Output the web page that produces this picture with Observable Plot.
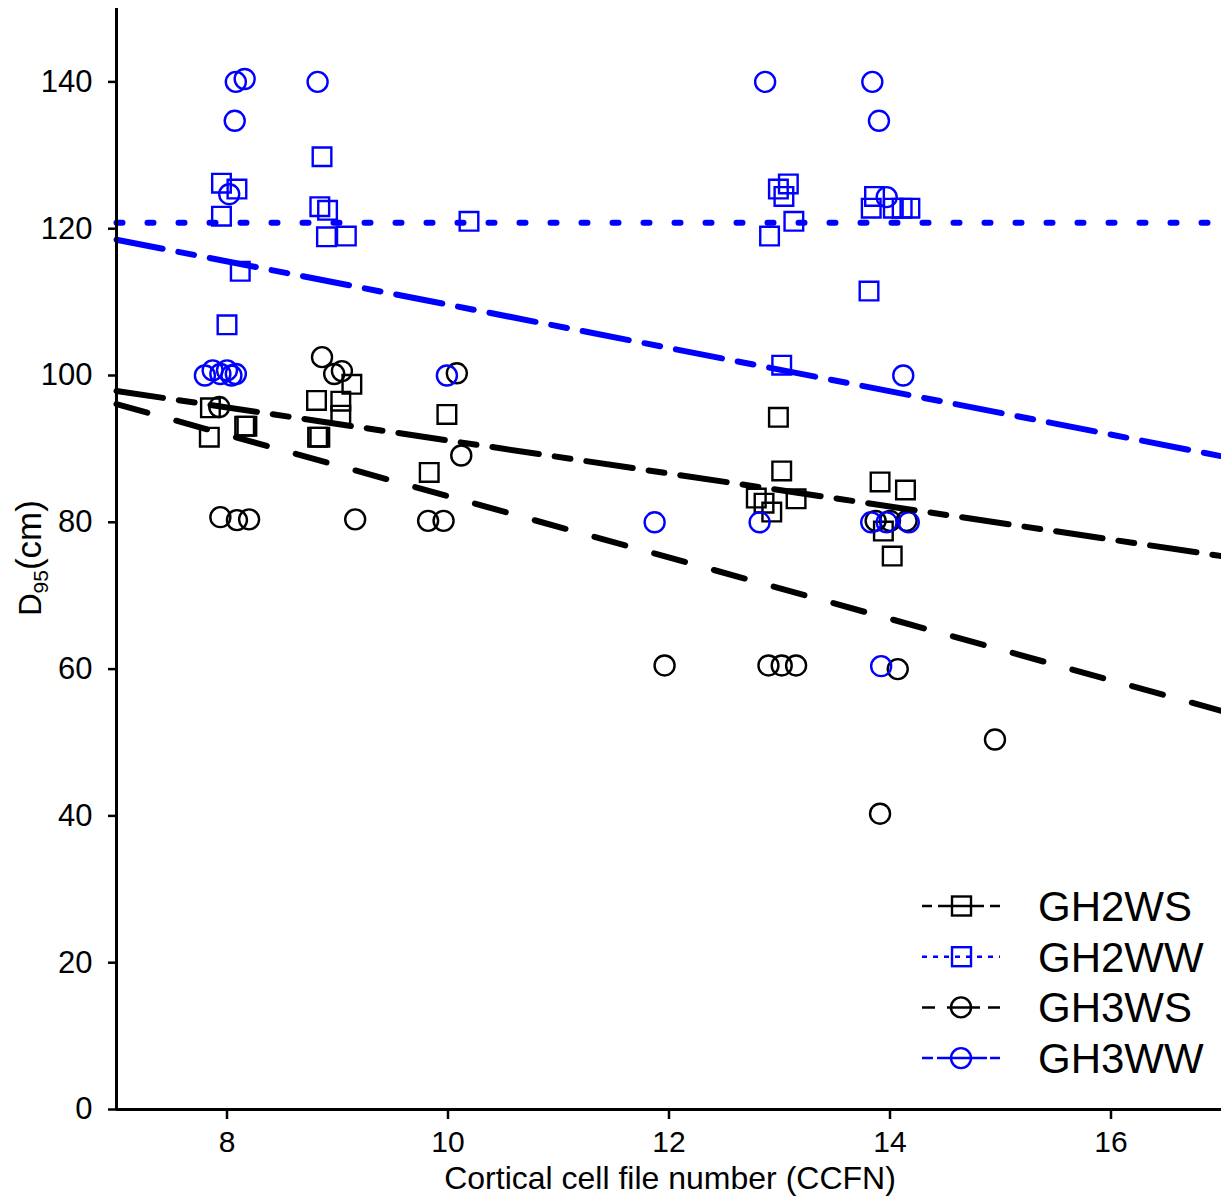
<!DOCTYPE html>
<html><head><meta charset="utf-8">
<script src="https://cdn.jsdelivr.net/npm/d3@7"></script>
<script src="https://cdn.jsdelivr.net/npm/@observablehq/plot@0.6"></script>
<style>body{margin:0;background:#fff;} #chart{position:relative;width:1221px;height:1196px;}</style>
</head><body><div id="chart"></div>
<script>
// ---- data ----
const xTicks = [8, 10, 12, 14, 16];
const yTicks = [0, 20, 40, 60, 80, 100, 120, 140];
const seriesNames = ["GH2WS", "GH2WW", "GH3WS", "GH3WW"];

const gh2wsX = [7.84,7.85,8.16,8.18,8.81,8.82,8.84,9.03,9.03,9.13,9.99,9.83,12.99,13.02,12.79,12.86,12.93,13.15,13.91,14.14,13.94,14.02];
const gh2wsY = [91.6,95.6,93.1,93.1,96.6,91.6,91.6,96.5,94.6,98.8,94.7,86.8,94.3,87.0,83.3,82.6,81.4,83.2,85.5,84.4,78.8,75.4];

const gh2wwX = [7.95,8.09,7.95,8.12,8.00,8.86,8.84,8.91,8.90,9.08,10.19,12.99,13.08,13.04,13.13,12.91,13.02,13.86,13.83,14.03,14.11,14.18,13.81];
const gh2wwY = [126.2,125.4,121.7,114.2,106.9,129.8,123.0,122.5,118.9,119.0,121.0,125.4,126.1,124.4,121.0,119.0,101.4,124.4,122.8,122.8,122.8,122.8,111.5];

const gh3wsX = [7.94,8.09,8.20,7.93,8.86,8.97,9.04,9.16,9.82,9.96,10.08,10.12,11.96,12.90,13.02,13.15,14.07,14.95,13.91,13.87,14.00,14.15];
const gh3wsY = [80.7,80.3,80.4,95.7,102.5,100.2,100.6,80.4,80.2,80.2,100.3,89.1,60.5,60.5,60.5,60.5,60.0,50.4,40.3,80.2,80.2,80.2];

const gh3wwX = [8.16,8.08,8.07,8.02,7.80,7.87,7.94,8.00,8.04,8.08,8.82,9.99,11.87,12.87,12.82,13.84,13.90,13.97,14.12,13.83,13.97,14.17,13.92];
const gh3wwY = [140.4,140.0,134.7,124.7,100.0,100.7,100.2,100.7,100.0,100.2,140.0,100.0,80.0,140.0,80.0,140.0,134.7,124.3,100.0,80.0,80.0,80.0,60.4];

// fitted lines, read at the plot's left and right edges
const fitX = [7, 17];
const gh2wsFit = [97.9, 75.4];
const gh2wwFit = [120.8, 120.8];
const gh3wsFit = [96.1, 54.3];
const gh3wwFit = [118.5, 89.0];

// ---- build tables ----
const BLUE = "#0000ff";
const style = {
  GH2WS: {color: "#000", symbol: "square", dash: "47,16,16,16", legendDash: "10,6,46,6,10"},
  GH2WW: {color: BLUE, symbol: "square", dash: "6,25", legendDash: "5,6"},
  GH3WS: {color: "#000", symbol: "circle", dash: "32,30", legendDash: "13,12,33,8,12"},
  GH3WW: {color: BLUE, symbol: "circle", dash: "47,16,16,16", legendDash: "11,4,50,3,10"}
};
const pts = (name, xs, ys) => xs.map((x, i) => ({series: name, x, y: ys[i]}));
const points = {
  GH2WS: pts("GH2WS", gh2wsX, gh2wsY),
  GH2WW: pts("GH2WW", gh2wwX, gh2wwY),
  GH3WS: pts("GH3WS", gh3wsX, gh3wsY),
  GH3WW: pts("GH3WW", gh3wwX, gh3wwY)
};
const fits = {
  GH2WS: pts("GH2WS", fitX, gh2wsFit),
  GH2WW: pts("GH2WW", fitX, gh2wwFit),
  GH3WS: pts("GH3WS", fitX, gh3wsFit),
  GH3WW: pts("GH3WW", fitX, gh3wwFit)
};

const dotMarks = seriesNames.map(n => Plot.dot(points[n], {
  x: "x", y: "y", symbol: () => style[n].symbol,
  r: style[n].symbol === "square" ? 10.5 : 10,
  stroke: style[n].color, strokeWidth: 2.4, fill: "none"
}));
const lineMarks = seriesNames.map(n => Plot.line(fits[n], {
  x: "x", y: "y", stroke: style[n].color, strokeWidth: 6,
  strokeDasharray: style[n].dash, strokeLinecap: "round"
}));

const ff = "'Liberation Sans', Arial, sans-serif";
const plot = Plot.plot({
  width: 1221, height: 1196,
  marginLeft: 116, marginRight: 0, marginTop: 8, marginBottom: 87,
  x: {domain: [7, 17], label: null},
  y: {domain: [0, 150], label: null},
  symbol: {type: "identity"},
  style: {fontFamily: ff, fontSize: "31px", background: "white", color: "black"},
  marks: [
    ...dotMarks,
    ...lineMarks,
    Plot.axisX({ticks: xTicks, tickSize: 10, tickPadding: 11, label: null, strokeWidth: 2.5, fontSize: 30}),
    Plot.axisY({ticks: yTicks, tickSize: 8, tickPadding: 16, label: null, strokeWidth: 2.5, fontSize: 31}),
    Plot.ruleX([7], {strokeWidth: 3}),
    Plot.ruleY([0], {strokeWidth: 3})
  ]
});
document.getElementById("chart").appendChild(plot);

// ---- labels and legend ----
const svg = d3.select(plot);
svg.append("text")
  .attr("x", 670).attr("y", 1189).attr("text-anchor", "middle")
  .attr("font-family", ff).attr("font-size", 32).attr("fill", "#000")
  .text("Cortical cell file number (CCFN)");
const yl = svg.append("text")
  .attr("transform", "translate(41,558) rotate(-90)").attr("text-anchor", "middle")
  .attr("font-family", ff).attr("font-size", 31).attr("fill", "#000");
yl.append("tspan").text("D");
yl.append("tspan").attr("font-size", 21).attr("dy", 7).text("95");
yl.append("tspan").attr("font-size", 35).attr("dy", -7).text("(cm)");

const lg = svg.append("g").attr("text-anchor", "start");
seriesNames.forEach((n, i) => {
  const cy = 906 + i * 50.7;
  const g = lg.append("g");
  g.append("line").attr("x1", 922).attr("x2", 1000).attr("y1", cy).attr("y2", cy)
    .attr("stroke", style[n].color).attr("stroke-width", 2.5)
    .attr("stroke-dasharray", style[n].legendDash);
  if (style[n].symbol === "square") {
    g.append("rect").attr("x", 952).attr("y", cy - 9.5).attr("width", 19).attr("height", 19)
      .attr("fill", "none").attr("stroke", style[n].color).attr("stroke-width", 2.4);
  } else {
    g.append("circle").attr("cx", 961).attr("cy", cy).attr("r", 10)
      .attr("fill", "none").attr("stroke", style[n].color).attr("stroke-width", 2.4);
  }
  g.append("text").attr("x", 1038).attr("y", cy + 15).attr("text-anchor", "start")
    .attr("font-family", ff).attr("font-size", 42).attr("fill", "#000").text(n);
});
</script></body></html>
